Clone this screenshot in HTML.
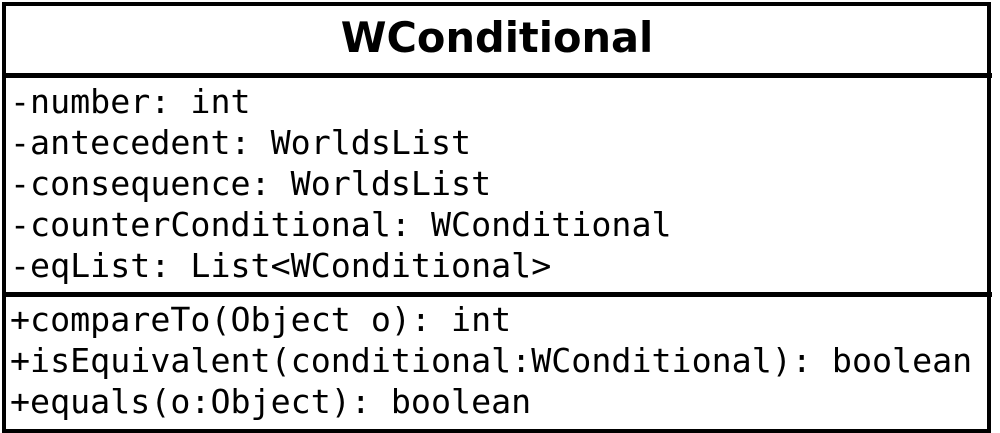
<!DOCTYPE html>
<html><head><style>
html,body{margin:0;padding:0;background:#fff;width:1000px;height:433px;overflow:hidden}
.box{position:absolute;left:2px;top:2px;width:981px;height:423px;border:4.5px solid #000;}
.hr{position:absolute;left:2px;width:990px;height:4.5px;background:#000}
.t{position:absolute;left:0;width:994px;text-align:center;font:bold 41.5px "DejaVu Sans","Liberation Sans",sans-serif;line-height:1.164;top:14px}
.m{position:absolute;left:10px;font:33.3px "DejaVu Sans Mono","Liberation Mono",monospace;line-height:41px;white-space:pre}
</style></head><body>
<div class="box"></div>
<div class="hr" style="top:73px"></div>
<div class="hr" style="top:292px"></div>
<div class="t">WConditional</div>
<div class="m" style="top:81px">-number: int
-antecedent: WorldsList
-consequence: WorldsList
-counterConditional: WConditional
-eqList: List&lt;WConditional&gt;</div>
<div class="m" style="top:299px">+compareTo(Object o): int
+isEquivalent(conditional:WConditional): boolean
+equals(o:Object): boolean</div>
</body></html>
